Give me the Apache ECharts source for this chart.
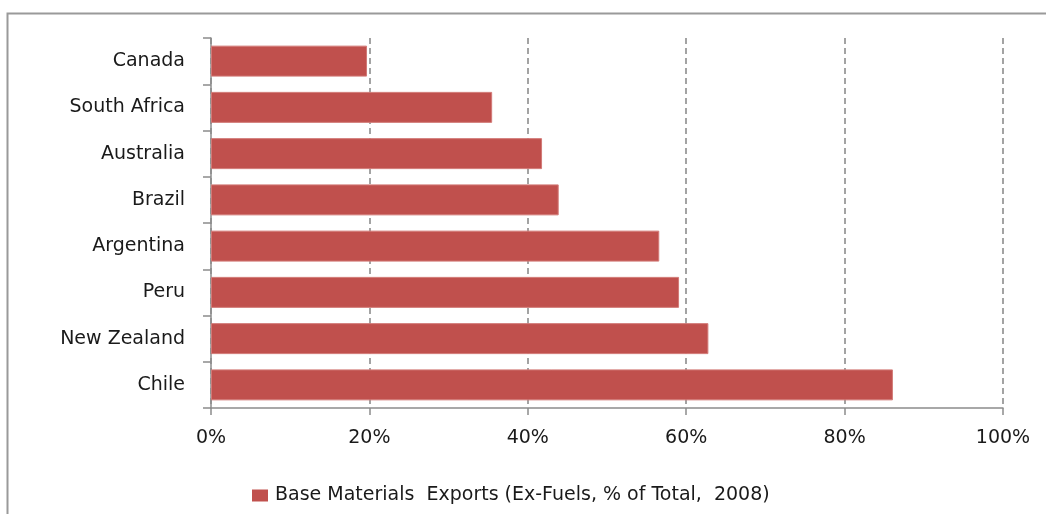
<!DOCTYPE html>
<html>
<head>
<meta charset="utf-8">
<script src="https://cdn.jsdelivr.net/npm/echarts@6/dist/echarts.min.js"></script>
<style>
  html, body { margin: 0; padding: 0; background: #fff; }
  #chart { width: 1046px; height: 514px; }
</style>
</head>
<body>
<div id="chart"></div>
<script>
// countries, top to bottom
const countries = ['Canada', 'South Africa', 'Australia', 'Brazil', 'Argentina', 'Peru', 'New Zealand', 'Chile']
// share of total exports (%)
const shares = [19.7, 35.5, 41.8, 43.9, 56.6, 59.1, 62.8, 86.1]
const seriesName = 'Base Materials  Exports (Ex-Fuels, % of Total,  2008)'
const ticks = [0, 20, 40, 60, 80, 100]

const font = 'DejaVu Sans'
const textColor = '#1a1a1a'

const chart = echarts.init(document.getElementById('chart'))
chart.setOption({
  animation: false,
  textStyle: { fontFamily: font },
  // outer frame (only top/left edge visible in the picture)
  graphic: [{
    type: 'rect',
    shape: { x: 7.5, y: 13.5, width: 1100, height: 600 },
    style: { fill: 'none', stroke: '#9a9a9a', lineWidth: 2 }
  }],
  grid: { left: 211, right: 43, top: 38, bottom: 106 },
  legend: {
    left: 247,
    top: 481,
    itemWidth: 16,
    itemHeight: 12,
    itemGap: 6,
    itemStyle: { borderWidth: 0 },
    textStyle: { fontFamily: font, fontSize: 19, color: textColor, lineHeight: 19, padding: [0, 0, 0, 2] },
    data: [{ name: seriesName, icon: 'rect' }]
  },
  xAxis: {
    type: 'value',
    min: ticks[0],
    max: ticks[ticks.length - 1],
    interval: 20,
    axisLine: { show: true, lineStyle: { color: '#8c8c8c', width: 1.5 } },
    axisTick: { show: true, length: 7, lineStyle: { color: '#8c8c8c', width: 1.5 } },
    axisLabel: {
      margin: 21,
      fontFamily: font,
      fontSize: 19,
      color: textColor,
      formatter: v => v + '%'
    },
    splitLine: {
      show: true,
      lineStyle: { color: '#a3a3a3', type: [6, 4], width: 2 }
    }
  },
  yAxis: {
    type: 'category',
    inverse: true,
    data: countries,
    axisLine: { show: true, lineStyle: { color: '#8c8c8c', width: 1.5 } },
    axisTick: { show: true, length: 8, inside: false, lineStyle: { color: '#8c8c8c', width: 1.5 } },
    axisLabel: { margin: 26, fontFamily: font, fontSize: 19, color: textColor }
  },
  series: [{
    name: seriesName,
    type: 'bar',
    data: shares,
    barCategoryGap: '33%',
    itemStyle: { color: '#C0504D', borderColor: '#d27a77', borderWidth: 1 }
  }]
})
</script>
</body>
</html>
